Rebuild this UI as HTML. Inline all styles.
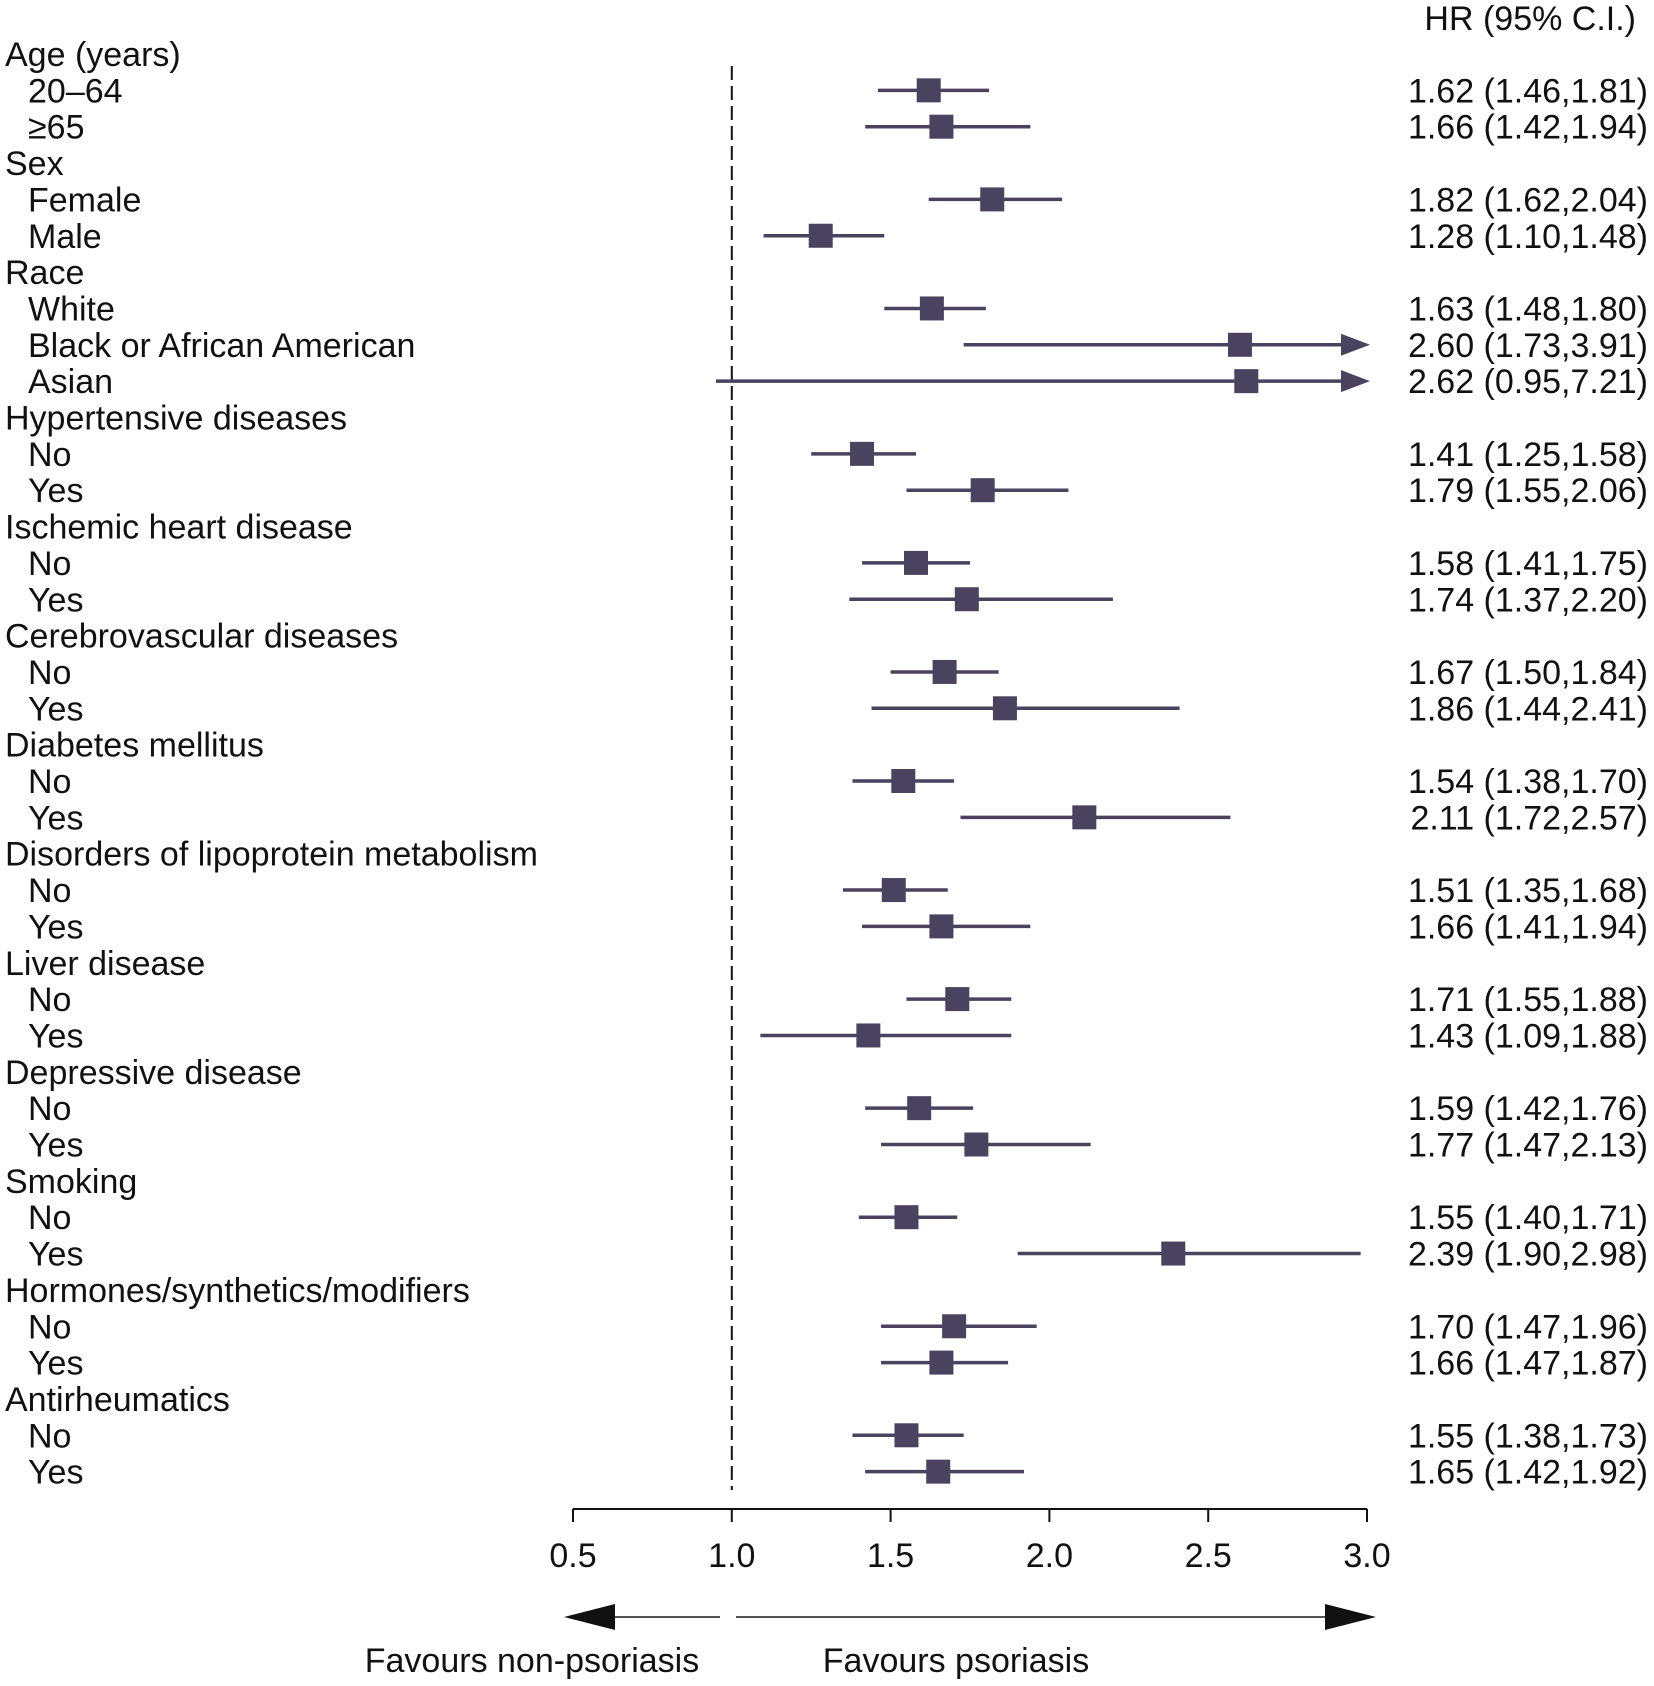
<!DOCTYPE html>
<html><head><meta charset="utf-8"><style>
html,body{margin:0;padding:0;background:#fff;}
svg{display:block;}
text{font-family:"Liberation Sans",sans-serif;font-size:34px;fill:#111;}
</style></head><body>
<svg id="chart" width="1654" height="1686" viewBox="0 0 1654 1686" xmlns="http://www.w3.org/2000/svg">
<text x="1636" y="30" text-anchor="end">HR  (95% C.I.)</text>
<g id="rows"></g>
<g id="marks"></g>
<g id="axis"></g>
</svg>
<script>
const labels = ["Age (years)","20–64","≥65","Sex","Female","Male","Race","White","Black or African American","Asian","Hypertensive diseases","No","Yes","Ischemic heart disease","No","Yes","Cerebrovascular diseases","No","Yes","Diabetes mellitus","No","Yes","Disorders of lipoprotein metabolism","No","Yes","Liver disease","No","Yes","Depressive disease","No","Yes","Smoking","No","Yes","Hormones/synthetics/modifiers","No","Yes","Antirheumatics","No","Yes"];
const hr =    [null,1.62,1.66,null,1.82,1.28,null,1.63,2.60,2.62,null,1.41,1.79,null,1.58,1.74,null,1.67,1.86,null,1.54,2.11,null,1.51,1.66,null,1.71,1.43,null,1.59,1.77,null,1.55,2.39,null,1.70,1.66,null,1.55,1.65];
const lower = [null,1.46,1.42,null,1.62,1.10,null,1.48,1.73,0.95,null,1.25,1.55,null,1.41,1.37,null,1.50,1.44,null,1.38,1.72,null,1.35,1.41,null,1.55,1.09,null,1.42,1.47,null,1.40,1.90,null,1.47,1.47,null,1.38,1.42];
const upper = [null,1.81,1.94,null,2.04,1.48,null,1.80,3.91,7.21,null,1.58,2.06,null,1.75,2.20,null,1.84,2.41,null,1.70,2.57,null,1.68,1.94,null,1.88,1.88,null,1.76,2.13,null,1.71,2.98,null,1.96,1.87,null,1.73,1.92];
const ticks = [0.5,1.0,1.5,2.0,2.5,3.0];
const tickLabels = ["0.5","1.0","1.5","2.0","2.5","3.0"];

const NS="http://www.w3.org/2000/svg";
const X0=573, X1=1367, XMIN=0.5, XMAX=3.0;
function xs(v){return X0+(v-XMIN)/(XMAX-XMIN)*(X1-X0);}
function ys(i){return 54+i*36.35;}
const col="#4a4360";
function mk(tag,attrs,parent){const e=document.createElementNS(NS,tag);for(const k in attrs)e.setAttribute(k,attrs[k]);parent.appendChild(e);return e;}
const rows=document.getElementById('rows'), marks=document.getElementById('marks'), axis=document.getElementById('axis');

const ref=mk('line',{x1:xs(1),x2:xs(1),y1:66,y2:1490,stroke:'#111','stroke-width':2,'stroke-dasharray':'14,6'},marks);



labels.forEach((lab,i)=>{
  const y=ys(i);
  const t=mk('text',{x:hr[i]==null?5:28,y:y+12},rows);
  t.textContent=lab;
  
  
  if(hr[i]==null) return;
  const v=mk('text',{x:1648,y:y+12,'text-anchor':'end'},rows);
  v.textContent=hr[i].toFixed(2)+' ('+lower[i].toFixed(2)+','+upper[i].toFixed(2)+')';
  
  
  const lo=Math.max(lower[i],0.9), over=upper[i]>XMAX;
  const hiX=over?xs(XMAX)-26:xs(upper[i]);
  const ln=mk('line',{x1:xs(lo),x2:hiX,y1:y,y2:y,stroke:col,'stroke-width':3.5},marks);
  
  
  if(over){
    const ar=mk('polygon',{points:`${xs(XMAX)+3},${y} ${hiX},${y-11} ${hiX},${y+11}`,fill:col},marks);
    
    
  }
  const sq=mk('rect',{x:xs(hr[i])-12,y:y-12,width:24,height:24,fill:col},marks);
  
  
});

const AY=1509;
const al=mk('line',{x1:X0,x2:X1,y1:AY,y2:AY,stroke:'#111','stroke-width':2},axis);


ticks.forEach((v,i)=>{
  const tk=mk('line',{x1:xs(v),x2:xs(v),y1:AY,y2:AY+13,stroke:'#111','stroke-width':2},axis);
  
  
  const tl=mk('text',{x:xs(v),y:AY+58,'text-anchor':'middle'},axis);
  tl.textContent=tickLabels[i];
  
  
});
const DY=1617;
const l1=mk('line',{x1:615,x2:720,y1:DY,y2:DY,stroke:'#555','stroke-width':2},axis);


const h1=mk('polygon',{points:`564,${DY} 615,${DY-13} 615,${DY+13}`,fill:'#111'},axis);


const l2=mk('line',{x1:736,x2:1325,y1:DY,y2:DY,stroke:'#555','stroke-width':2},axis);


const h2=mk('polygon',{points:`1376,${DY} 1325,${DY-13} 1325,${DY+13}`,fill:'#111'},axis);


const f1=mk('text',{x:532,y:1672,'text-anchor':'middle'},axis);
f1.textContent='Favours non-psoriasis';


const f2=mk('text',{x:956,y:1672,'text-anchor':'middle'},axis);
f2.textContent='Favours psoriasis';


</script>
</body></html>
